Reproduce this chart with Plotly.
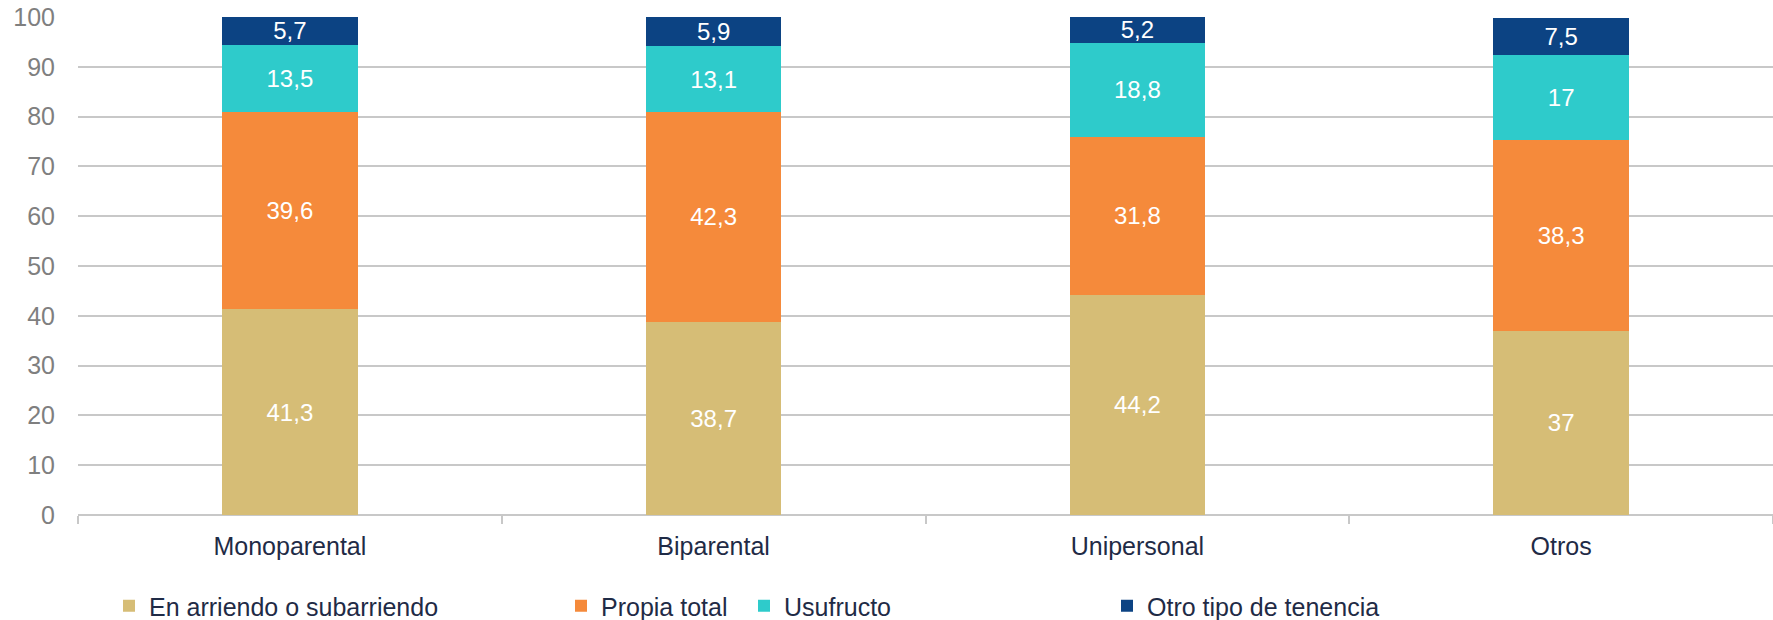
import plotly.graph_objects as go

# Household type categories and tenure shares (%)
categorias = ["Monoparental", "Biparental", "Unipersonal", "Otros"]
arriendo = [41.3, 38.7, 44.2, 37]
propia = [39.6, 42.3, 31.8, 38.3]
usufructo = [13.5, 13.1, 18.8, 17]
otro = [5.7, 5.9, 5.2, 7.5]

series = [
    ("En arriendo o subarriendo", arriendo, "#D6BD76"),
    ("Propia total", propia, "#F58A3B"),
    ("Usufructo", usufructo, "#2ECBCB"),
    ("Otro tipo de tenencia", otro, "#0C4383"),
]

W, H = 1773, 620
ML, MR, MT, MB = 78, 0, 17, 105

FONT = "Liberation Sans, Arial, sans-serif"
TEXT_DARK = "#1F2B46"

fig = go.Figure()

# Legend entries sit at uneven horizontal positions, so each series gets its own legend
legend_px = [109, 561, 744, 1107]
legend_names = ["legend", "legend2", "legend3", "legend4"]

for (name, vals, color), lg in zip(series, legend_names):
    fig.add_trace(go.Bar(
        x=categorias,
        y=vals,
        name=name,
        marker=dict(color=color, line=dict(width=0)),
        width=0.32,
        text=vals,
        texttemplate="%{y}",
        textposition="inside",
        insidetextanchor="middle",
        constraintext="none",
        textangle=0,
        textfont=dict(color="white", size=24, family=FONT),
        legend=lg,
    ))

legend_common = dict(
    orientation="h",
    xref="container",
    yref="container",
    yanchor="middle",
    y=1 - 606 / H,
    xanchor="left",
    font=dict(size=25, color=TEXT_DARK, family=FONT),
    bgcolor="rgba(0,0,0,0)",
    itemwidth=30,
    tracegroupgap=0,
)

layout_legends = {}
for lg, px in zip(legend_names, legend_px):
    layout_legends[lg] = dict(legend_common, x=px / W)

fig.update_layout(
    barmode="stack",
    width=W,
    height=H,
    margin=dict(l=ML, r=MR, t=MT, b=MB, pad=0, autoexpand=False),
    paper_bgcolor="white",
    plot_bgcolor="white",
    separators=", ",
    showlegend=True,
    font=dict(family=FONT),
    xaxis=dict(
        showgrid=False,
        showline=False,
        ticks="outside",
        tickson="boundaries",
        ticklen=8,
        tickwidth=1.5,
        tickcolor="#C8C8C8",
        tickfont=dict(size=25, color=TEXT_DARK, family=FONT),
        ticklabelstandoff=14,
    ),
    yaxis=dict(
        range=[0, 100],
        dtick=10,
        tick0=0,
        showgrid=True,
        gridcolor="#C8C8C8",
        gridwidth=1.5,
        zeroline=True,
        zerolinecolor="#C8C8C8",
        zerolinewidth=1.5,
        showline=False,
        ticks="",
        tickfont=dict(size=25, color="#7F7F7F", family=FONT),
        ticklabelstandoff=22,
    ),
    **layout_legends,
)

fig.write_html("out.html")
